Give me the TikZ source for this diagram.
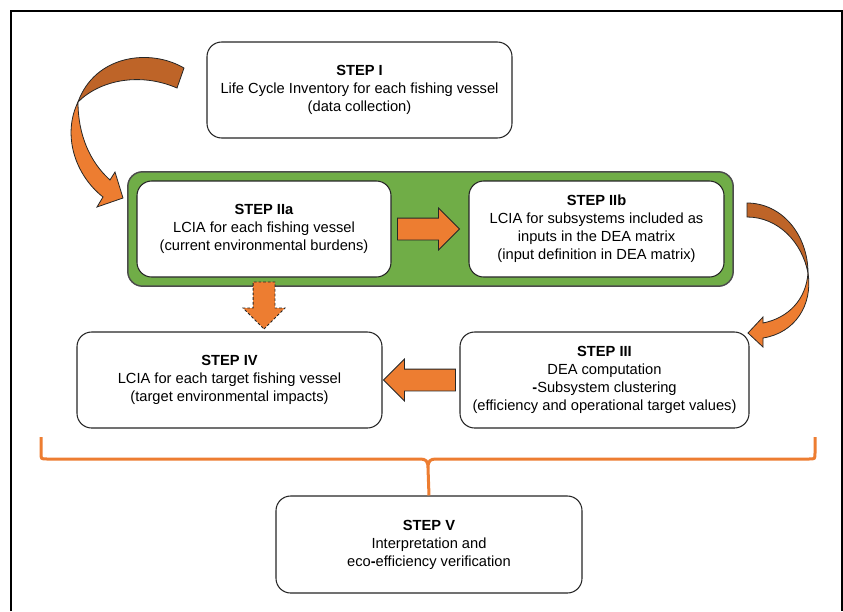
\documentclass[tikz,border=0pt]{standalone}
\usepackage{fontspec}
\setmainfont{Liberation Sans}
\usetikzlibrary{shapes.arrows, calc, fit, backgrounds}
\definecolor{stepOrange}{RGB}{237,125,49}
\definecolor{stepBrown}{RGB}{190,100,40}
\definecolor{stepGreen}{RGB}{112,173,71}
\tikzset{
    stepbox/.style={
        rectangle,
        draw=black!85,
        line width=0.8pt,
        rounded corners=11pt,
        fill=white,
        minimum height=72pt,
        minimum width=#1,
        align=center,
        font=\fontsize{11}{13.5}\selectfont
    },
    panel/.style={
        rectangle,
        draw=black!70,
        line width=1.1pt,
        fill=stepGreen,
        rounded corners=11pt,
        inner sep=6.5pt
    },
    blockarrow/.style={
        single arrow,
        draw=black!85,
        line width=0.6pt,
        fill=stepOrange,
        single arrow head extend=7.5pt,
        minimum width=30.75pt,
        inner xsep=0pt,
        inner ysep=7.875pt,
        shape border rotate=#1
    },
    curvebody/.style={
        draw=black!85,
        line width=0.6pt
    },
    bracket/.style={
        draw=stepOrange,
        line width=2.25pt
    }
}

\begin{document}
\begin{tikzpicture}[x=0.75pt, y=-0.75pt]
    \useasboundingbox (0,0) rectangle (843,611);
    \draw[line width=0.9pt] (11,611) -- (11,11) -- (842,11) -- (842,611);

    % steps
    \node[stepbox=228.75pt] (stepI)   at (359.5,90)  {\textbf{STEP I}\\Life Cycle Inventory for each fishing vessel\\(data collection)};
    \node[stepbox=190.5pt]  (stepIIa) at (264,229)   {\textbf{STEP IIa}\\LCIA for each fishing vessel\\(current environmental burdens)};
    \node[stepbox=191.25pt] (stepIIb) at (596.5,229) {\textbf{STEP IIb}\\LCIA for subsystems included as\\inputs in the DEA matrix\\(input definition in DEA matrix)};
    \node[stepbox=228.75pt] (stepIV)  at (229.5,380) {\textbf{STEP IV}\\LCIA for each target fishing vessel\\(target environmental impacts)};
    \node[stepbox=216.75pt] (stepIII) at (604.5,380) {\textbf{STEP III}\\DEA computation\\{\bfseries -}Subsystem clustering\\(efficiency and operational target values)};
    \node[stepbox=229.5pt, minimum height=72.75pt] (stepV) at (429,544.5) {\textbf{STEP V}\\Interpretation and\\eco{\bfseries -}efficiency verification};

    \begin{scope}[on background layer]
        \node[panel, fit=(stepIIa)(stepIIb)] (phaseII) {};
    \end{scope}

    % straight block arrows
    \node[blockarrow=0,   minimum height=46.5pt] (toIIb) at ($(stepIIa.east)!0.5!(stepIIb.west)+(-7,0)$) {};
    \node[blockarrow=180, minimum height=54pt]   (toIV)  at ($(stepIII.west)!0.5!(stepIV.east)+(4,0)$) {};
    \node[blockarrow=270, minimum height=35.25pt, inner xsep=7.875pt, inner ysep=0pt,
          dash pattern=on 2pt off 1.5pt] (downIV) at ($(stepIIa.south)+(0,22.5)$) {};

    % curved arrow I -> IIa
    \draw[curvebody, fill=stepBrown] (184,68) .. controls (150,48) and (95,55) .. (78,102)
        .. controls (100,80) and (140,72) .. (177,88) -- cycle;
    \draw[curvebody, fill=stepOrange] (78,102) .. controls (62,135) and (75,175) .. (103,197)
        -- (97,207) -- (123,198) -- (115,172) -- (110,180)
        .. controls (90,162) and (78,135) .. (78,102) -- cycle;

    % curved arrow IIb -> III
    \draw[curvebody, fill=stepBrown] (747,203) .. controls (782,203) and (808,235) .. (808,273)
        .. controls (802,242) and (778,217) .. (747,217) -- cycle;
    \draw[curvebody, fill=stepOrange] (808,273) .. controls (813,305) and (795,333) .. (763,338)
        -- (763,347) -- (748,333) -- (763,317) -- (763,323)
        .. controls (788,318) and (806,300) .. (808,273) -- cycle;

    % bracket to step V
    \coordinate (braceL) at (41,437);
    \coordinate (braceR) at (815,437);
    \coordinate (braceM) at (428,468);
    \draw[bracket] (braceL) -- (41,453) .. controls (41,459) .. (47,459) -- (420,459)
        .. controls (426,459) and (428,461) .. (braceM)
        .. controls (428,461) and (430,459) .. (436,459) -- (809,459)
        .. controls (815,459) .. (815,453) -- (braceR);
    \draw[bracket] (braceM) -- (stepV.north);
\end{tikzpicture}
\end{document}
